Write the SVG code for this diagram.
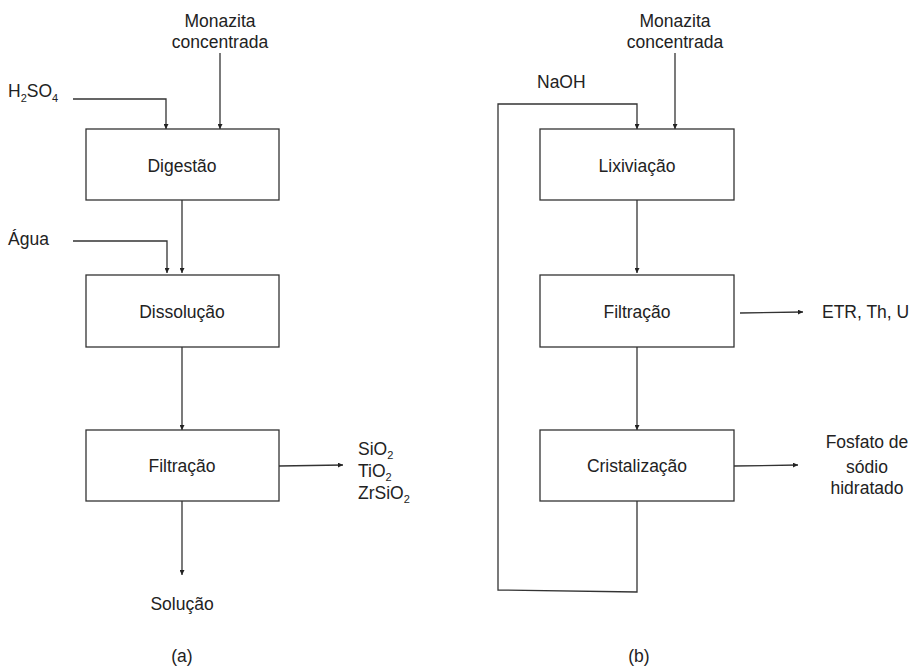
<svg xmlns="http://www.w3.org/2000/svg" width="913" height="666" viewBox="0 0 913 666">
  <style>
    text { font-family: "Liberation Sans", Arial, sans-serif; font-size: 17.5px; fill: #222; }
    .mid { text-anchor: middle; }
    .sub { font-size: 11px; }
    .box { fill: #fff; stroke: #333; stroke-width: 1.3; }
    .flow { fill: none; stroke: #333; stroke-width: 1.3; }
  </style>
  <defs>
    <marker id="arrow" viewBox="0 0 10 10" refX="10" refY="5" markerWidth="5" markerHeight="5" markerUnits="userSpaceOnUse" orient="auto">
      <path d="M0,0 L10,5 L0,10 z" fill="#222"/>
    </marker>
  </defs>

  <rect width="913" height="666" fill="#fff"/>

  <!-- connectors -->
  <g id="connectors">
    <!-- route (a) -->
    <path class="flow" d="M220,53 V129" marker-end="url(#arrow)"/>
    <path class="flow" d="M73,99 H166 V129" marker-end="url(#arrow)"/>
    <path class="flow" d="M182,200 V273" marker-end="url(#arrow)"/>
    <path class="flow" d="M73,241 H167 V273" marker-end="url(#arrow)"/>
    <path class="flow" d="M182,347 V430" marker-end="url(#arrow)"/>
    <path class="flow" d="M279,466 L343,465" marker-end="url(#arrow)"/>
    <path class="flow" d="M182,501 V575" marker-end="url(#arrow)"/>
    <!-- route (b) -->
    <path class="flow" d="M675,53 V129" marker-end="url(#arrow)"/>
    <path class="flow" d="M637,501 V592 L498,590 V104 H637 V129" marker-end="url(#arrow)"/>
    <path class="flow" d="M637,200 V273" marker-end="url(#arrow)"/>
    <path class="flow" d="M740,313 L803,312" marker-end="url(#arrow)"/>
    <path class="flow" d="M637,347 V430" marker-end="url(#arrow)"/>
    <path class="flow" d="M734,466 L798,465" marker-end="url(#arrow)"/>
  </g>

  <!-- process (a) -->
  <g id="a-digestao">
    <rect class="box" x="86" y="129" width="193" height="71"/>
    <text class="mid" x="182" y="172">Digestão</text>
  </g>
  <g id="a-dissolucao">
    <rect class="box" x="86" y="275" width="193" height="72"/>
    <text class="mid" x="182" y="318">Dissolução</text>
  </g>
  <g id="a-filtracao">
    <rect class="box" x="86" y="430" width="193" height="71"/>
    <text class="mid" x="182" y="472">Filtração</text>
  </g>
  <g id="a-monazita">
    <text class="mid" x="220" y="27">Monazita</text>
    <text class="mid" x="220" y="48">concentrada</text>
  </g>
  <g id="a-h2so4">
    <text x="8" y="97">H<tspan class="sub" dy="5">2</tspan><tspan dy="-5">SO</tspan><tspan class="sub" dy="5">4</tspan></text>
  </g>
  <g id="a-agua">
    <text x="8" y="245">Água</text>
  </g>
  <g id="a-residuo">
    <text x="358" y="455">SiO<tspan class="sub" dy="3.5">2</tspan></text>
    <text x="358" y="477">TiO<tspan class="sub" dy="3.5">2</tspan></text>
    <text x="358" y="499">ZrSiO<tspan class="sub" dy="3.5">2</tspan></text>
  </g>
  <g id="a-solucao">
    <text class="mid" x="182" y="610">Solução</text>
  </g>
  <text class="mid" x="182" y="662">(a)</text>

  <!-- process (b) -->
  <g id="b-lixiviacao">
    <rect class="box" x="540" y="129" width="194" height="71"/>
    <text class="mid" x="637" y="172">Lixiviação</text>
  </g>
  <g id="b-filtracao">
    <rect class="box" x="540" y="275" width="194" height="72"/>
    <text class="mid" x="637" y="318">Filtração</text>
  </g>
  <g id="b-cristalizacao">
    <rect class="box" x="540" y="430" width="194" height="71"/>
    <text class="mid" x="637" y="472">Cristalização</text>
  </g>
  <g id="b-monazita">
    <text class="mid" x="675" y="27">Monazita</text>
    <text class="mid" x="675" y="48">concentrada</text>
  </g>
  <g id="b-naoh">
    <text x="537" y="88">NaOH</text>
  </g>
  <g id="b-etr">
    <text x="822" y="318">ETR, Th, U</text>
  </g>
  <g id="b-fosfato">
    <text class="mid" x="867" y="448">Fosfato de</text>
    <text class="mid" x="867" y="473">sódio</text>
    <text class="mid" x="867" y="494">hidratado</text>
  </g>
  <text class="mid" x="639" y="662">(b)</text>
</svg>
